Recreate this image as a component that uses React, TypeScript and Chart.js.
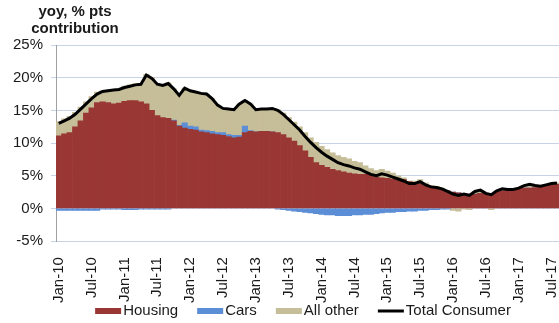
import React, { useEffect, useRef } from "react";
import { Chart, registerables } from "chart.js";

Chart.register(...registerables);

const TITLE_LINES = ["yoy, % pts", "contribution"];

const CATEGORIES = [
  "Jan-10", "Feb-10", "Mar-10", "Apr-10", "May-10", "Jun-10", "Jul-10", "Aug-10", "Sep-10", "Oct-10", "Nov-10", "Dec-10",
  "Jan-11", "Feb-11", "Mar-11", "Apr-11", "May-11", "Jun-11", "Jul-11", "Aug-11", "Sep-11", "Oct-11", "Nov-11", "Dec-11",
  "Jan-12", "Feb-12", "Mar-12", "Apr-12", "May-12", "Jun-12", "Jul-12", "Aug-12", "Sep-12", "Oct-12", "Nov-12", "Dec-12",
  "Jan-13", "Feb-13", "Mar-13", "Apr-13", "May-13", "Jun-13", "Jul-13", "Aug-13", "Sep-13", "Oct-13", "Nov-13", "Dec-13",
  "Jan-14", "Feb-14", "Mar-14", "Apr-14", "May-14", "Jun-14", "Jul-14", "Aug-14", "Sep-14", "Oct-14", "Nov-14", "Dec-14",
  "Jan-15", "Feb-15", "Mar-15", "Apr-15", "May-15", "Jun-15", "Jul-15", "Aug-15", "Sep-15", "Oct-15", "Nov-15", "Dec-15",
  "Jan-16", "Feb-16", "Mar-16", "Apr-16", "May-16", "Jun-16", "Jul-16", "Aug-16", "Sep-16", "Oct-16", "Nov-16", "Dec-16",
  "Jan-17", "Feb-17", "Mar-17", "Apr-17", "May-17", "Jun-17", "Jul-17", "Aug-17",
];

const HOUSING = [
  11.1, 11.4, 11.6, 12.5, 13.4, 14.6, 15.4, 16.2, 16.3, 16.2, 16.0, 16.1,
  16.4, 16.5, 16.5, 16.3, 16.0, 15.0, 14.2, 13.9, 13.8, 13.4, 12.6, 12.3,
  12.1, 12.0, 11.7, 11.6, 11.4, 11.3, 11.2, 11.0, 10.8, 10.9, 11.6, 11.8,
  11.7, 11.8, 11.8, 11.7, 11.6, 11.3, 10.8, 10.3, 9.6, 8.8, 7.8, 7.0,
  6.6, 6.3, 6.0, 5.8, 5.6, 5.4, 5.3, 5.2, 5.2, 5.1, 4.8, 4.7,
  4.6, 4.5, 4.5, 4.4, 4.1, 3.9, 3.8, 3.6, 3.3, 3.1, 2.9, 2.7,
  2.5, 2.4, 2.3, 2.2, 2.2, 2.3, 2.3, 2.3, 2.5, 2.7, 2.9, 2.9,
  3.0, 3.1, 3.1, 3.2, 3.3, 3.5, 3.6, 3.7,
];

const CARS = [
  -0.3, -0.3, -0.3, -0.3, -0.3, -0.3, -0.3, -0.3, -0.1, -0.1, -0.1, -0.1,
  -0.2, -0.2, -0.2, -0.1, -0.1, -0.1, -0.1, -0.1, -0.1, 0.1, 0.1, 0.8,
  0.5, 0.5, 0.3, 0.3, 0.4, 0.3, 0.4, 0.3, 0.4, 0.3, 1.0, 0.1,
  0.0, 0.0, 0.0, 0.0, -0.1, -0.2, -0.3, -0.4, -0.5, -0.6, -0.7, -0.8,
  -0.9, -1.0, -1.0, -1.1, -1.1, -1.1, -1.0, -1.0, -0.9, -0.9, -0.8, -0.7,
  -0.6, -0.6, -0.5, -0.5, -0.4, -0.4, -0.3, -0.3, -0.2, -0.2, -0.1, -0.1,
  0.0, 0.0, 0.0, 0.0, 0.0, 0.0, 0.0, 0.0, 0.0, 0.0, 0.0, 0.0,
  0.0, 0.0, 0.0, 0.0, 0.0, 0.0, 0.0, 0.0,
];

const ALL_OTHER = [
  2.2, 2.3, 2.5, 2.2, 2.1, 1.7, 1.7, 1.6, 1.7, 1.9, 2.2, 2.2,
  2.3, 2.4, 2.6, 2.8, 4.5, 5.0, 4.9, 5.0, 5.4, 4.8, 4.6, 5.3,
  5.4, 5.3, 5.6, 5.6, 5.0, 4.2, 3.7, 3.9, 3.9, 4.8, 3.9, 4.1,
  3.4, 3.4, 3.4, 3.6, 3.5, 3.3, 3.1, 2.9, 2.9, 2.8, 3.0, 3.1,
  2.9, 2.7, 2.5, 2.3, 2.2, 2.2, 1.9, 1.8, 1.3, 1.0, 1.0, 1.3,
  1.1, 0.9, 0.5, 0.3, 0.1, 0.3, 0.6, 0.3, 0.2, 0.3, 0.2, 0.0,
  -0.3, -0.4, -0.1, -0.2, 0.4, 0.5, 0.0, -0.2, 0.2, 0.3, 0.0, 0.0,
  0.1, 0.4, 0.6, 0.3, 0.1, 0.1, 0.2, 0.2,
];

const TOTAL_CONSUMER = [
  13.0, 13.4, 13.8, 14.4, 15.2, 16.0, 16.8, 17.5, 17.9, 18.0, 18.1, 18.2,
  18.5, 18.7, 18.9, 19.0, 20.4, 19.9, 19.0, 18.8, 19.1, 18.3, 17.3, 18.4,
  18.0, 17.8, 17.6, 17.5, 16.8, 15.8, 15.3, 15.2, 15.1, 16.0, 16.5, 16.0,
  15.1, 15.2, 15.2, 15.3, 15.0, 14.4, 13.6, 12.8, 12.0, 11.0, 10.1, 9.3,
  8.6, 8.0, 7.5, 7.0, 6.7, 6.5, 6.2, 6.0, 5.6, 5.2, 5.0, 5.3,
  5.1, 4.8, 4.5, 4.2, 3.8, 3.8, 4.1, 3.6, 3.3, 3.2, 3.0, 2.6,
  2.2, 2.0, 2.2, 2.0, 2.6, 2.8, 2.3, 2.1, 2.7, 3.0, 2.9, 2.9,
  3.1, 3.5, 3.7, 3.5, 3.4, 3.6, 3.8, 3.9,
];

const SERIES_NAMES = ["Housing", "Cars", "All other", "Total Consumer"];
const SERIES_COLORS = ["#993734", "#5B8ED6", "#C6BE98", "#000000"];
const Y_MIN = -5;
const Y_MAX = 25;
const Y_STEP = 5;

const FONT = '"Liberation Sans", Arial, Helvetica, sans-serif';

const cornerTitle = {
  id: "cornerTitle",
  afterDraw(chart: any) {
    const ctx = chart.ctx;
    ctx.save();
    ctx.font = `bold 15px ${FONT}`;
    ctx.fillStyle = "#1a1a1a";
    ctx.textAlign = "center";
    ctx.textBaseline = "middle";
    const cx = chart.chartArea.left + 19;
    ctx.fillText(TITLE_LINES[0], cx, 12);
    ctx.fillText(TITLE_LINES[1], cx, 29);
    ctx.restore();
  },
};

const bottomLegend = {
  id: "bottomLegend",
  afterDraw(chart: any) {
    const ctx = chart.ctx;
    ctx.save();
    ctx.font = `15px ${FONT}`;
    ctx.textBaseline = "middle";
    ctx.textAlign = "left";
    const boxW = 26;
    const boxH = 6;
    const gap = 2;
    const spacing = 19;
    const widths = SERIES_NAMES.map((n) => boxW + gap + ctx.measureText(n).width);
    const total = widths.reduce((a, b) => a + b, 0) + spacing * (SERIES_NAMES.length - 1);
    const centerX = chart.chartArea.left + 247;
    const y = chart.height - 12;
    let x = centerX - total / 2;
    SERIES_NAMES.forEach((name, i) => {
      if (i === 3) {
        ctx.strokeStyle = SERIES_COLORS[i];
        ctx.lineWidth = 3;
        ctx.beginPath();
        ctx.moveTo(x, y);
        ctx.lineTo(x + boxW, y);
        ctx.stroke();
      } else {
        ctx.fillStyle = SERIES_COLORS[i];
        ctx.fillRect(x, y - boxH / 2, boxW, boxH);
      }
      ctx.fillStyle = "#1a1a1a";
      ctx.fillText(name, x + boxW + gap, y);
      x += widths[i] + spacing;
    });
    ctx.restore();
  },
};

export default function App() {
  const ref = useRef<HTMLCanvasElement | null>(null);

  useEffect(() => {
    if (!ref.current) return;
    const barCommon = {
      type: "bar",
      borderWidth: 0,
      barPercentage: 1,
      categoryPercentage: 1,
      stack: "bars",
      order: 1,
    };
    const chart = new Chart(ref.current, {
      type: "bar",
      data: {
        labels: CATEGORIES,
        datasets: [
          { ...barCommon, label: SERIES_NAMES[0], data: HOUSING, backgroundColor: SERIES_COLORS[0] } as any,
          { ...barCommon, label: SERIES_NAMES[1], data: CARS, backgroundColor: SERIES_COLORS[1] } as any,
          { ...barCommon, label: SERIES_NAMES[2], data: ALL_OTHER, backgroundColor: SERIES_COLORS[2] } as any,
          {
            type: "line",
            label: SERIES_NAMES[3],
            data: TOTAL_CONSUMER,
            borderColor: SERIES_COLORS[3],
            backgroundColor: SERIES_COLORS[3],
            borderWidth: 3,
            pointRadius: 0,
            tension: 0,
            stack: "line",
            order: 0,
          } as any,
        ],
      },
      options: {
        responsive: false,
        animation: false,
        layout: { padding: { left: 5, right: 0, top: 45, bottom: 12 } },
        plugins: {
          tooltip: { enabled: false },
          legend: { display: false },
        },
        scales: {
          x: {
            stacked: true,
            grid: { display: false },
            border: { display: true, color: "#C9D3E6" },
            ticks: {
              autoSkip: false,
              minRotation: 90,
              maxRotation: 90,
              padding: 8,
              font: { family: FONT, size: 15 },
              color: "#1a1a1a",
              callback: function (this: any, value: any) {
                const lab = this.getLabelForValue(value) as string;
                return lab.startsWith("Jan") || lab.startsWith("Jul") ? lab : "";
              },
            },
          },
          y: {
            stacked: true,
            min: Y_MIN,
            max: Y_MAX,
            grid: {
              color: "#C9D3E6",
              tickLength: 5,
              drawTicks: true,
            },
            border: { display: true, color: "#A0A0A0" },
            ticks: {
              stepSize: Y_STEP,
              padding: 8,
              font: { family: FONT, size: 15 },
              color: "#1a1a1a",
              callback: (v: any) => `${v}%`,
            },
          },
        },
      },
      plugins: [cornerTitle, bottomLegend],
    });
    return () => chart.destroy();
  }, []);

  return (
    <div
      style={{
        position: "fixed",
        left: 0,
        top: 0,
        width: 559,
        height: 323,
        overflow: "hidden",
        background: "#ffffff",
      }}
    >
      <canvas ref={ref} width={583} height={323} style={{ display: "block" }} />
    </div>
  );
}
